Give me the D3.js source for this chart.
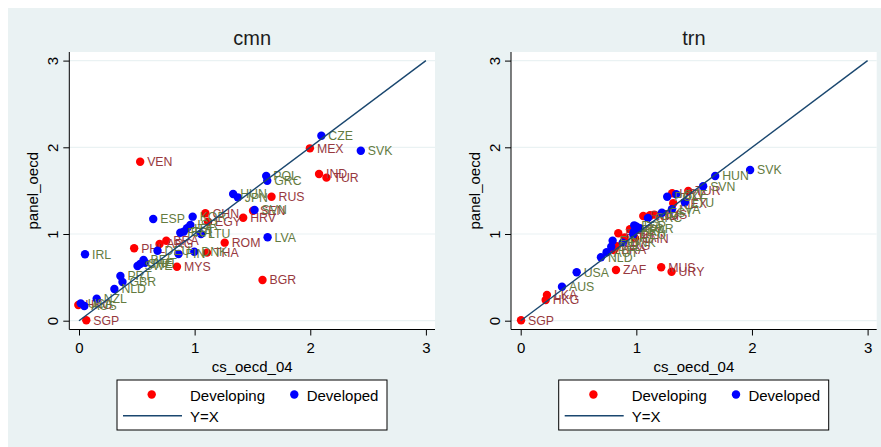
<!DOCTYPE html>
<html>
<head>
<meta charset="utf-8">
<script src="https://cdn.jsdelivr.net/npm/d3@7/dist/d3.min.js"></script>
<style>
  html, body { margin: 0; padding: 0; background: #ffffff; }
  svg { display: block; }
  text { font-family: Arial, "Liberation Sans", Helvetica, sans-serif; }
</style>
</head>
<body>
<svg id="chart" width="881" height="447"></svg>
<script>
// ---------------- DATA ----------------
const categories = ["Developing", "Developed"];
const panelTitles = ["cmn", "trn"];
const xTicks = [0, 1, 2, 3];
const yTicks = [0, 1, 2, 3];
const xTitle = "cs_oecd_04";
const yTitle = "panel_oecd";
const lineLabel = "Y=X";

// cmn panel
const cmnCountry = ["CZE","SVK","POL","GRC","HUN","JPN","SVN","LVA","ESP","KOR","ISR","ITA","EST","FRA","LTU","DEU","FIN","DNK","BEL","AUT","CHE","SWE","PRT","GBR","NLD","NZL","IRL","USA","AUS",
                    "VEN","MEX","IND","TUR","RUS","HRV","CHN","EGY","ROM","THA","MYS","BRA","ARG","PHL","BGR","HKG","SGP","SEN"];
const cmnX = [2.096,2.437,1.619,1.628,1.333,1.373,1.518,1.631,0.642,0.983,0.963,0.934,0.905,0.876,1.055,0.679,0.861,0.997,0.558,0.572,0.529,0.506,0.358,0.376,0.306,0.153,0.052,0.015,0.046,
              0.529,1.997,2.076,2.140,1.665,1.420,1.093,1.116,1.260,1.107,0.847,0.755,0.697,0.477,1.587,-0.006,0.063,1.505];
const cmnY = [2.134,1.961,1.669,1.615,1.461,1.423,1.277,0.962,1.173,1.200,1.104,1.066,1.027,1.015,1.000,0.807,0.769,0.796,0.700,0.669,0.654,0.631,0.516,0.446,0.366,0.254,0.766,0.200,0.170,
              1.834,1.988,1.692,1.650,1.430,1.188,1.239,1.142,0.900,0.785,0.623,0.923,0.885,0.835,0.469,0.181,0.005,1.268];
const cmnGroup = ["Developed","Developed","Developed","Developed","Developed","Developed","Developed","Developed","Developed","Developed","Developed","Developed","Developed","Developed","Developed","Developed","Developed","Developed","Developed","Developed","Developed","Developed","Developed","Developed","Developed","Developed","Developed","Developed","Developed",
                  "Developing","Developing","Developing","Developing","Developing","Developing","Developing","Developing","Developing","Developing","Developing","Developing","Developing","Developing","Developing","Developing","Developing","Developing"];

// trn panel
const trnCountry = ["SVK","HUN","SVN","POL","CZE","LTU","LVA","EST","GRC","ESP","ITA","KOR","FRA","DEU","FIN","DNK","BEL","AUT","NLD","USA","AUS",
                    "SGP","HKG","LKA","ZAF","MUS","URY","TUR","HRV","MEX","RUS","IND","ROM","EGY","PHL","CHN","BRA","THA","ARG"];
const trnX = [1.984,1.682,1.578,1.267,1.345,1.420,1.308,1.221,1.100,0.982,1.003,1.031,0.979,0.973,0.795,0.882,0.783,0.743,0.694,0.484,0.357,
              0.003,0.216,0.227,0.824,1.215,1.305,1.449,1.310,1.319,1.155,1.118,1.060,0.945,0.844,0.988,0.806,0.900,0.830];
const trnY = [1.738,1.669,1.550,1.430,1.458,1.366,1.285,1.246,1.185,1.100,1.084,1.066,1.027,0.997,0.923,0.900,0.854,0.789,0.731,0.558,0.392,
              0.005,0.239,0.296,0.585,0.616,0.565,1.496,1.470,1.354,1.223,1.216,1.208,1.054,1.008,0.950,0.815,0.960,0.860];
const trnGroup = ["Developed","Developed","Developed","Developed","Developed","Developed","Developed","Developed","Developed","Developed","Developed","Developed","Developed","Developed","Developed","Developed","Developed","Developed","Developed","Developed","Developed",
                  "Developing","Developing","Developing","Developing","Developing","Developing","Developing","Developing","Developing","Developing","Developing","Developing","Developing","Developing","Developing","Developing","Developing","Developing"];

// ---------------- STYLE ----------------
const BG = "#eaf2f3";
const markerColor = d3.scaleOrdinal().domain(categories).range(["#ff0000", "#0000ff"]);
const labelColor = d3.scaleOrdinal().domain(categories).range(["#97393e", "#647b3f"]);
const LINE = "#1a476f";

const svg = d3.select("#chart");
svg.append("rect").attr("x", 0).attr("y", 0).attr("width", 881).attr("height", 447).attr("fill", "#ffffff");
svg.append("rect").attr("x", 8).attr("y", 8).attr("width", 873).attr("height", 439).attr("fill", BG);

function buildPanel(ox, title, countries, xs, ys, groups) {
  const g = svg.append("g").attr("transform", `translate(${ox},0)`);
  const plot = { x0: 69.3, x1: 435, y0: 52, y1: 329.5 };
  const x = d3.scaleLinear().domain([0, 3]).range([79, 425.9]);
  const y = d3.scaleLinear().domain([0, 3]).range([320.7, 60.6]);

  // title
  g.append("text").attr("x", (plot.x0 + plot.x1) / 2).attr("y", 45)
    .attr("text-anchor", "middle").attr("font-size", 20).attr("fill", "#1c1c1c").text(title);

  // plot region
  g.append("rect").attr("x", plot.x0).attr("y", plot.y0)
    .attr("width", plot.x1 - plot.x0).attr("height", plot.y1 - plot.y0).attr("fill", "#ffffff");

  // gridlines
  g.append("g").selectAll("line").data(yTicks).join("line")
    .attr("x1", plot.x0).attr("x2", plot.x1)
    .attr("y1", d => y(d)).attr("y2", d => y(d))
    .attr("stroke", BG).attr("stroke-width", 1.2);

  // y axis
  const ya = g.append("g").attr("transform", `translate(${plot.x0},0)`)
    .call(d3.axisLeft(y).tickValues(yTicks).tickFormat(d3.format("d")).tickSize(6).tickSizeOuter(0));
  ya.select(".domain").attr("d", `M0,${plot.y0}V${plot.y1}`).attr("stroke", "#000");
  ya.selectAll(".tick line").attr("stroke", "#000");
  ya.selectAll(".tick text")
    .attr("x", 0).attr("y", -11).attr("dy", 0)
    .attr("transform", "rotate(-90)")
    .attr("text-anchor", "middle")
    .attr("font-size", 15).attr("fill", "#000");

  // x axis
  const xa = g.append("g").attr("transform", `translate(0,${plot.y1})`)
    .call(d3.axisBottom(x).tickValues(xTicks).tickFormat(d3.format("d")).tickSize(6).tickSizeOuter(0));
  xa.select(".domain").attr("d", `M${plot.x0},0H${plot.x1}`).attr("stroke", "#000");
  xa.selectAll(".tick line").attr("stroke", "#000");
  xa.selectAll(".tick text").attr("y", 13).attr("dy", "0.71em").attr("font-size", 15).attr("fill", "#000");

  // axis titles
  g.append("text").attr("x", (plot.x0 + plot.x1) / 2).attr("y", 372)
    .attr("text-anchor", "middle").attr("font-size", 15).attr("fill", "#000").text(xTitle);
  g.append("text").attr("transform", `translate(38,${(plot.y0 + plot.y1) / 2}) rotate(-90)`)
    .attr("text-anchor", "middle").attr("font-size", 15).attr("fill", "#000").text(yTitle);

  const pts = countries.map((c, i) => ({ c, x: xs[i], y: ys[i], g: groups[i] }));

  const order = ["Developing", "Developed"];
  order.forEach(cat => {
    const sub = pts.filter(p => p.g === cat);
    const gs = g.append("g");
    gs.selectAll("circle").data(sub).join("circle")
      .attr("cx", d => x(d.x)).attr("cy", d => y(d.y)).attr("r", 4.2)
      .attr("fill", markerColor(cat));
    gs.selectAll("text").data(sub).join("text")
      .attr("x", d => x(d.x) + 7).attr("y", d => y(d.y)).attr("dy", "0.35em")
      .attr("font-size", 12.3).attr("fill", labelColor(cat)).text(d => d.c);
  });

  // Y = X line
  g.append("line")
    .attr("x1", x(0)).attr("y1", y(0)).attr("x2", x(3)).attr("y2", y(3))
    .attr("stroke", LINE).attr("stroke-width", 1.4);

  // legend
  const lg = g.append("g");
  lg.append("rect").attr("x", 117).attr("y", 380).attr("width", 270).attr("height", 50)
    .attr("fill", "#fff").attr("stroke", "#000").attr("stroke-width", 1);
  const legPos = [{ cx: 151.7, tx: 190 }, { cx: 294.3, tx: 306.7 }];
  categories.forEach((cat, i) => {
    lg.append("circle").attr("cx", legPos[i].cx).attr("cy", 394.5).attr("r", 4.2).attr("fill", markerColor(cat));
    lg.append("text").attr("x", legPos[i].tx).attr("y", 400.5).attr("font-size", 15).attr("fill", "#000").text(cat);
  });
  lg.append("line").attr("x1", 123).attr("x2", 182).attr("y1", 415.7).attr("y2", 415.7)
    .attr("stroke", LINE).attr("stroke-width", 1.4);
  lg.append("text").attr("x", 190).attr("y", 421.5).attr("font-size", 15).attr("fill", "#000").text(lineLabel);
}

buildPanel(0, panelTitles[0], cmnCountry, cmnX, cmnY, cmnGroup);
buildPanel(441.7, panelTitles[1], trnCountry, trnX, trnY, trnGroup);
</script>
</body>
</html>
